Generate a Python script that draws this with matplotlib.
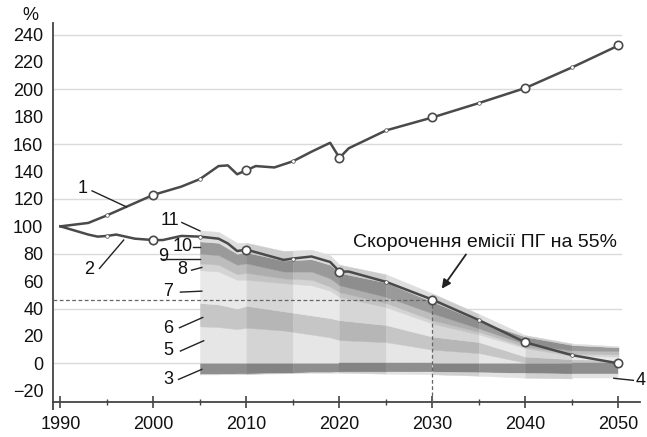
import numpy as np
import matplotlib
matplotlib.use("Agg")
import matplotlib.pyplot as plt
from matplotlib.colors import to_rgb

plt.rcParams['font.family'] = ['Liberation Sans', 'DejaVu Sans']

# ---------------- data ----------------
# line 1 (GDP index, 1990 = 100 %)
years1 = [1990, 1993, 1995, 1997, 2000, 2002, 2003, 2005, 2007, 2008, 2009, 2010,
          2011, 2013, 2015, 2017, 2019, 2020, 2021, 2025, 2030, 2035, 2040, 2045, 2050]
vals1 = [100, 102.5, 108, 114, 123, 127, 129, 134.5, 144, 144.5, 138, 141,
         144, 143, 147.5, 154.5, 161, 150, 157, 170, 179.5, 190, 201, 216, 232]

# line 2 (GHG emissions index, 1990 = 100 %)
years2 = [1990, 1993, 1994, 1995, 1996, 1998, 2000, 2001, 2003, 2005, 2007, 2008,
          2009, 2010, 2014, 2015, 2017, 2019, 2020, 2021, 2025, 2030, 2035, 2040,
          2045, 2050]
vals2 = [100, 94, 92.5, 93, 94, 91, 90, 90, 93, 92.5, 91, 87.5,
         82, 83, 75.5, 76.5, 78, 74, 67, 67, 59.5, 46.5, 31.5, 15.3,
         6, 0]

# stacked sector layers (thickness, %), 2005-2050
years_s = [2005, 2007, 2009, 2010, 2014, 2017, 2019, 2020, 2025, 2030, 2035, 2040, 2045, 2050]
layer5 = [27, 26.5, 25, 26, 24, 21, 19, 17, 15.5, 10, 7.5, 0.5, 0.3, 0.3]
layer6 = [17, 16.5, 15, 16, 14, 14, 14, 14.5, 12.5, 9.5, 8, 4.4, 2.7, 2.2]
layer7 = [24, 24, 21, 19, 20.5, 22, 20, 17, 13, 9.5, 5.5, 6.1, 2.5, 2.4]
layer8 = [5, 5, 4, 5, 3.5, 4, 3, 3.5, 3, 2.5, 2, 1, 1.5, 1.6]
layer9 = [7, 7, 7, 7, 5, 6, 6, 5, 4.5, 5, 2.5, 2, 2.5, 2.5]
layer10 = [9, 9, 8, 8, 8, 9, 10, 9, 10.5, 8.5, 5.5, 5.4, 3.9, 2.7]
layer11 = [8, 8, 8, 7, 7, 7, 7, 6, 6, 6, 5, 1.1, 1.1, 0.8]
layer3 = [-8, -8, -7.5, -7.5, -7, -6.5, -6.5, -6, -6, -6, -6.5, -7, -7.5, -7.5]
layer4 = [0, 0, 0, 0, -0.3, -0.5, -0.7, -0.8, -1.5, -2, -2.5, -3.5, -3.5, -3.5]

target_year = 2030
target_value = 46.5
annotation_text = 'Скорочення емісії ПГ на 55%'

grid_y = [0, 40, 80, 120, 160, 200, 240]
ytick_vals = list(range(-20, 241, 20))
xtick_major = list(range(1990, 2051, 10))
xtick_minor = list(range(1995, 2050, 10))

# ---------------- figure ----------------
fig = plt.figure(figsize=(6.47, 4.37), dpi=100)
ax = fig.add_axes([0.0819, 0.0801, 0.989 - 0.0819, 0.947 - 0.0801])
xmin, xmax = 1989.2, 2052.3
ymin, ymax = -28.2, 248.3
ax.set_xlim(xmin, xmax)
ax.set_ylim(ymin, ymax)

# grid lines
for g in grid_y:
    ax.plot([xmin, 2050.3], [g, g], color='#dadada', lw=1.0, zorder=0.5)

# stacked layers
pos_layers = [layer5, layer6, layer7, layer8, layer9, layer10, layer11]
pos_colors = ['#e6e6e6', '#c6c6c6', '#e9e9e9', '#d4d4d4', '#bdbdbd', '#9a9a9a', '#dedede']
neg_layers = [layer3, layer4]
neg_colors = ['#8e8e8e', '#e2e2e2']

xs = np.round(np.linspace(2005, 2050, 901), 6)
pos_cum = np.cumsum(np.array(pos_layers, dtype=float), axis=0)
neg_cum = np.cumsum(np.array(neg_layers, dtype=float), axis=0)

segments = [(2005 + 5 * i, 2010 + 5 * i) for i in range(9)]


def shade(c, dark):
    r, g, b = to_rgb(c)
    f = 0.92 if dark else 1.0
    return (r * f, g * f, b * f)


for si, (a, b) in enumerate(segments):
    dark = (si % 2 == 1)
    m = (xs >= a - 1e-9) & (xs <= b + 1e-9)
    xm = xs[m]
    lo = np.zeros_like(xm)
    for k in range(len(pos_layers)):
        hi = np.interp(xm, years_s, pos_cum[k])
        col = shade(pos_colors[k], dark)
        ax.fill_between(xm, lo, hi, facecolor=col, edgecolor=col, lw=0.3, zorder=1)
        lo = hi
    lo = np.zeros_like(xm)
    for k in range(len(neg_layers)):
        hi = np.interp(xm, years_s, neg_cum[k])
        col = shade(neg_colors[k], dark)
        ax.fill_between(xm, hi, lo, facecolor=col, edgecolor=col, lw=0.3, zorder=1)
        lo = hi

# dashed reference lines
ax.plot([xmin, target_year], [target_value, target_value], color='#666666', lw=0.9,
        ls=(0, (3, 2)), zorder=3)
ax.plot([target_year, target_year], [ymin, target_value], color='#666666', lw=0.9,
        ls=(0, (3, 2)), zorder=3)

# lines
line_col = '#4a4a4a'
for yrs, vals in [(years1, vals1), (years2, vals2)]:
    ax.plot(yrs, vals, color=line_col, lw=1.8, zorder=5, solid_joinstyle='round')
    big = [(x, v) for x, v in zip(yrs, vals) if x in xtick_major[1:]]
    small = [(x, v) for x, v in zip(yrs, vals) if x in xtick_minor]
    ax.plot([p[0] for p in big], [p[1] for p in big], ls='none', marker='o', ms=6,
            mfc='white', mec=line_col, mew=1.2, zorder=6)
    ax.plot([p[0] for p in small], [p[1] for p in small], ls='none', marker='o', ms=2.6,
            mfc='white', mec=line_col, mew=0.5, zorder=6)

# annotation
ax.annotate('', xy=(2031.0, 54.5), xytext=(2033.6, 79.5),
            arrowprops=dict(arrowstyle='-|>', color='#222222', lw=1.3,
                            mutation_scale=13, shrinkA=0, shrinkB=0), zorder=7)
ax.text(2035.7, 88.5, annotation_text, ha='center', va='center', fontsize=14, color='#111111')

# numbered labels with leader lines
labels = [
    ('1', 1992.4, 127.6, 'center', [(1993.4, 125.9), (1997.1, 114.2)]),
    ('2', 1993.1, 68.6, 'center', [(1994.2, 69.3), (1996.8, 90.0)]),
    ('11', 2001.8, 104.5, 'center', [(2003.05, 102.8), (2005.0, 96.7)]),
    ('10', 2003.1, 85.5, 'center', [(2004.3, 85.0), (2005.0, 85.0)]),
    ('9', 2001.1, 77.8, 'center', [(2000.9, 76.0), (2005.0, 76.0)]),
    ('8', 2003.1, 68.6, 'center', [(2004.1, 68.0), (2005.2, 70.0)]),
    ('7', 2001.6, 52.2, 'center', [(2002.9, 52.0), (2005.2, 52.7)]),
    ('6', 2001.6, 25.5, 'center', [(2002.8, 26.0), (2005.3, 33.5)]),
    ('5', 2001.6, 9.2, 'center', [(2002.9, 9.0), (2005.4, 16.5)]),
    ('3', 2001.6, -11.7, 'center', [(2002.7, -11.7), (2005.2, -4.4)]),
    ('4', 2052.95, -12.4, 'right', [(2049.5, -10.9), (2051.6, -12.4)]),
]
for txt, tx, ty, ha, pts in labels:
    ax.text(tx, ty, txt, ha=ha, va='center',
            fontsize=13, color='#111111', clip_on=False, zorder=8)
    ax.plot([p[0] for p in pts], [p[1] for p in pts], color='#222222', lw=1.0,
            zorder=8, clip_on=False)

# axes styling
for s in ['top', 'right']:
    ax.spines[s].set_visible(False)
for s in ['left', 'bottom']:
    ax.spines[s].set_color('#444444')
    ax.spines[s].set_linewidth(1.3)
# small extension of the y axis below the x axis
ax.plot([xmin, xmin], [ymin, ymin - 5.5], color='#444444', lw=1.3, clip_on=False,
        solid_capstyle='butt')

ax.set_xticks(xtick_major)
ax.set_xticks(xtick_minor, minor=True)
ax.set_yticks(ytick_vals)
ax.tick_params(axis='x', which='major', direction='inout', length=8.5, width=1.2,
               colors='#444444', labelcolor='#111111', labelsize=13, pad=6)
ax.tick_params(axis='x', which='minor', direction='inout', length=4, width=1.0,
               colors='#444444')
ax.tick_params(axis='y', length=0, pad=7, labelsize=13, labelcolor='#111111')

fig.text(30 / 647, 1 - 15 / 437, '%', ha='center', va='center', fontsize=13, color='#111111')

fig.savefig('out.png', dpi=100)
